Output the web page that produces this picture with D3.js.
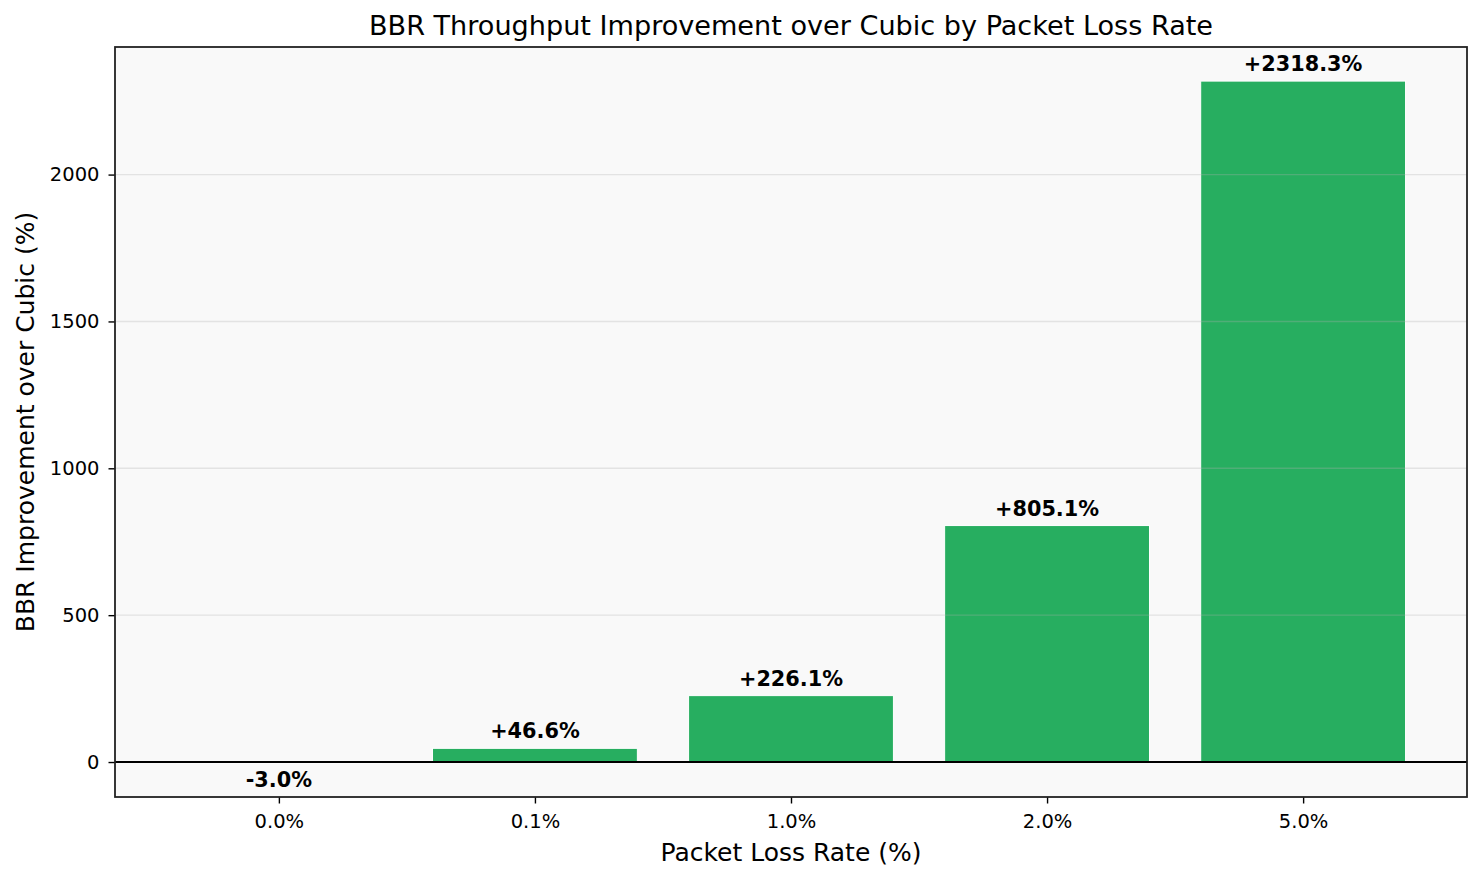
<!DOCTYPE html>
<html>
<head>
<meta charset="utf-8">
<script src="https://cdn.jsdelivr.net/npm/d3@7"></script>
<style>
  body { margin: 0; background: #fff; }
  text { font-family: "DejaVu Sans", sans-serif; }
</style>
</head>
<body>
<svg id="chart" width="1481" height="880"></svg>
<script>
// Loss rates on the x axis and BBR gain over Cubic (%)
const lossRates = ['0.0%', '0.1%', '1.0%', '2.0%', '5.0%'];
const improvement = [-3.0, 46.6, 226.1, 805.1, 2318.3];
const yTicks = [0, 500, 1000, 1500, 2000];

const width = 1481, height = 880;
const margin = { top: 47, right: 14, bottom: 83, left: 115 };
const plotW = width - margin.left - margin.right;
const plotH = height - margin.top - margin.bottom;

const svg = d3.select('#chart');

// Matplotlib style 5% padding on y
const lo = Math.min(0, d3.min(improvement)), hi = d3.max(improvement);
const pad = (hi - lo) * 0.05;

const xScale = d3.scaleLinear()
    .domain([-0.64, lossRates.length - 1 + 0.64])
    .range([0, plotW]);

const yScale = d3.scaleLinear()
    .domain([lo - pad, hi + pad])
    .range([plotH, 0]);

const g = svg.append('g')
    .attr('transform', `translate(${margin.left}, ${margin.top})`);

// Background
g.append('rect')
    .attr('width', plotW)
    .attr('height', plotH)
    .attr('fill', '#f9f9f9');

// Bars
const barW = xScale(0.8) - xScale(0);
g.append('g')
    .selectAll('rect')
    .data(improvement)
    .join('rect')
    .attr('x', (d, i) => xScale(i) - barW / 2)
    .attr('width', barW)
    .attr('y', d => yScale(Math.max(0, d)))
    .attr('height', d => Math.abs(yScale(d) - yScale(0)))
    .attr('fill', d => d < 0 ? '#e74c3c' : '#27ae60')
    .attr('stroke', '#fff')
    .attr('stroke-width', 1);

// Horizontal grid, drawn over bars like matplotlib
g.append('g')
    .selectAll('line')
    .data(yTicks)
    .join('line')
    .attr('x1', 0)
    .attr('x2', plotW)
    .attr('y1', d => yScale(d))
    .attr('y2', d => yScale(d))
    .attr('stroke', '#b0b0b0')
    .attr('stroke-opacity', 0.3)
    .attr('stroke-width', 1.4);

// Zero line
g.append('line')
    .attr('x1', 0)
    .attr('x2', plotW)
    .attr('y1', yScale(0))
    .attr('y2', yScale(0))
    .attr('stroke', '#000')
    .attr('stroke-width', 1.1)
    .attr('shape-rendering', 'crispEdges');

// Value labels
g.append('g')
    .selectAll('text')
    .data(improvement)
    .join('text')
    .attr('x', (d, i) => xScale(i))
    .attr('y', d => d < 0 ? yScale(d) + 24 : yScale(d) - 10)
    .attr('text-anchor', 'middle')
    .attr('font-size', 20.8)
    .attr('font-weight', 'bold')
    .attr('fill', '#000')
    .text(d => (d >= 0 ? '+' : '') + d.toFixed(1) + '%');

// Axes
const xAxis = g.append('g')
    .attr('transform', `translate(0, ${plotH})`)
    .call(d3.axisBottom(xScale)
        .tickValues(d3.range(lossRates.length))
        .tickFormat(i => lossRates[i])
        .tickSize(6.5)
        .tickPadding(11));

const yAxis = g.append('g')
    .call(d3.axisLeft(yScale)
        .tickValues(yTicks)
        .tickFormat(d3.format('d'))
        .tickSize(6.5)
        .tickPadding(9));

[xAxis, yAxis].forEach(ax => {
    ax.select('.domain').remove();
    ax.selectAll('line').attr('stroke', '#000').attr('stroke-width', 1.4);
    ax.selectAll('text')
        .attr('font-size', 19.5)
        .attr('fill', '#000')
        .style('font-family', '"DejaVu Sans", sans-serif');
});

// Frame
g.append('rect')
    .attr('width', plotW)
    .attr('height', plotH)
    .attr('fill', 'none')
    .attr('stroke', '#222')
    .attr('stroke-width', 1.8);

// Title and axis labels
svg.append('text')
    .attr('x', margin.left + plotW / 2)
    .attr('y', 35)
    .attr('text-anchor', 'middle')
    .attr('font-size', 27.1)
    .text('BBR Throughput Improvement over Cubic by Packet Loss Rate');

svg.append('text')
    .attr('x', margin.left + plotW / 2)
    .attr('y', 861)
    .attr('text-anchor', 'middle')
    .attr('font-size', 25)
    .text('Packet Loss Rate (%)');

svg.append('text')
    .attr('transform', `translate(34, ${margin.top + plotH / 2}) rotate(-90)`)
    .attr('text-anchor', 'middle')
    .attr('font-size', 25)
    .text('BBR Improvement over Cubic (%)');
</script>
</body>
</html>
